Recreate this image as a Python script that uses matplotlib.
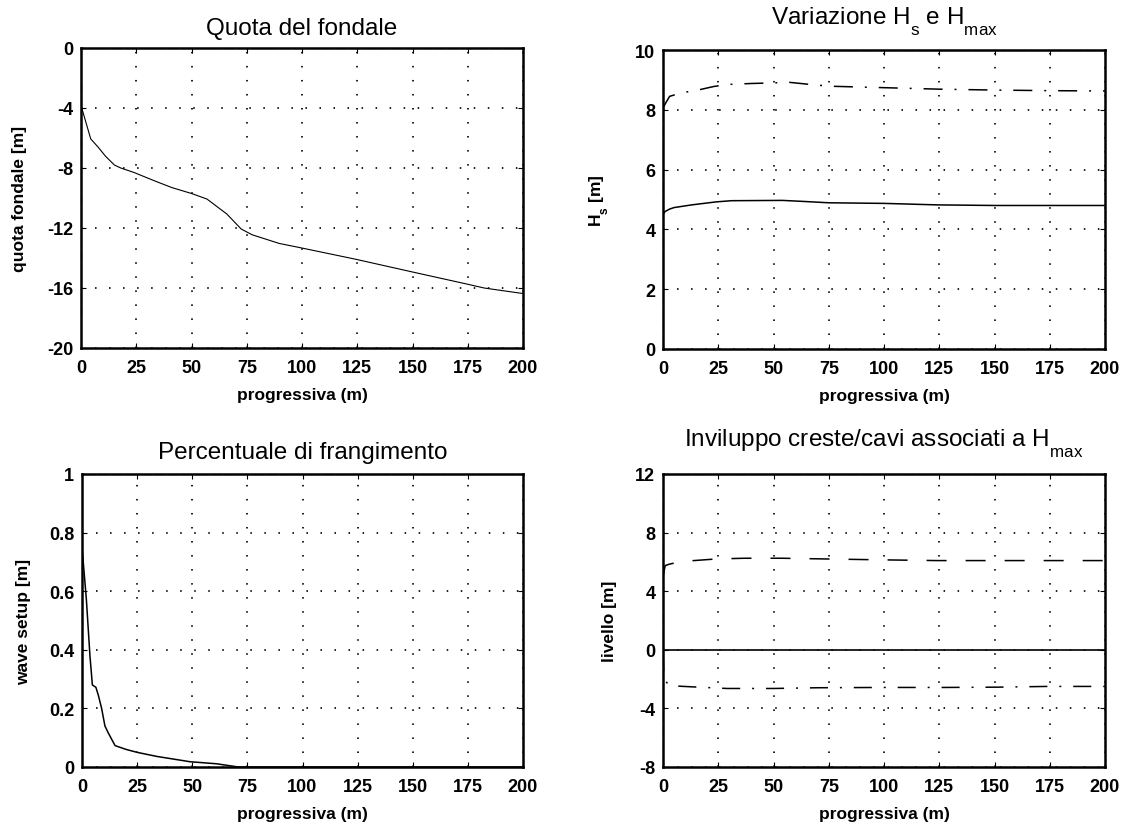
import matplotlib
matplotlib.use("Agg")
import matplotlib.pyplot as plt
from matplotlib.ticker import FormatStrFormatter

# ---- data -------------------------------------------------------------
# sea-bed elevation along the profile
x_fondale = [0, 4.4, 7.7, 11, 15.1, 18, 24, 33, 41, 50, 57, 66, 72.5, 77.4,
             89.7, 98.8, 124.2, 149.6, 175, 182.4, 200]
y_fondale = [-3.83, -6.06, -6.6, -7.2, -7.8, -8.0, -8.3, -8.84, -9.3, -9.7,
             -10.07, -11.07, -12.07, -12.45, -13.03, -13.3, -14.08, -14.92,
             -15.75, -16.0, -16.37]

# significant and maximum wave height
x_hs = [0, 1, 3, 5, 13, 24, 31, 54, 65, 75, 100, 124, 150, 200]
y_hs = [4.5, 4.6, 4.68, 4.73, 4.82, 4.92, 4.96, 4.97, 4.93, 4.89, 4.87,
        4.82, 4.8, 4.8]
x_hmax = [0, 1, 3, 8, 17, 23, 30, 40, 50, 57, 65, 75, 100, 125, 150, 175, 200]
y_hmax = [8.05, 8.2, 8.45, 8.56, 8.68, 8.78, 8.85, 8.88, 8.9, 8.92, 8.86,
          8.79, 8.74, 8.69, 8.66, 8.64, 8.63]

# breaking percentage
x_frang = [0, 2, 3.6, 4.7, 6.3, 7.4, 8.9, 10.4, 12, 15, 20, 25, 34, 49, 61,
           70, 72, 200]
y_frang = [0.75, 0.57, 0.38, 0.28, 0.272, 0.245, 0.2, 0.14, 0.115, 0.073,
           0.06, 0.05, 0.036, 0.018, 0.011, 0.001, 0.0, 0.0]

# crest / trough envelope associated with Hmax
x_creste = [0, 1, 3, 6, 10.3, 24, 37, 53.5, 74, 99, 124, 150, 200]
y_creste = [5.0, 5.75, 5.85, 5.95, 6.05, 6.2, 6.25, 6.25, 6.2, 6.14, 6.09,
            6.09, 6.09]
x_cavi = [0, 0.4, 2.9, 16, 29, 50, 70, 99, 127, 151.5, 174, 200]
y_cavi = [-0.2, -2.0, -2.45, -2.55, -2.64, -2.64, -2.59, -2.57, -2.57,
          -2.55, -2.5, -2.5]
x_medio = [0, 200]
y_medio = [0, 0]

x_ticks = [0, 25, 50, 75, 100, 125, 150, 175, 200]

# ---- style ------------------------------------------------------------
plt.rcParams.update({
    "font.family": ["Liberation Sans", "DejaVu Sans"],
    "mathtext.fontset": "custom",
    "mathtext.rm": "Liberation Sans",
    "mathtext.it": "Liberation Sans",
    "mathtext.bf": "Liberation Sans:bold",
    "lines.scale_dashes": False,
})

# deeper subscripts for the sans font used in the labels
try:
    from matplotlib import _mathtext as _mt

    class _LowSubConstants(_mt.FontConstantsBase):
        sub1 = 0.85
        sub2 = 0.85

    _mt._font_constant_mapping["Liberation Sans"] = _LowSubConstants
except Exception:
    pass

TICK_FS = 13
LABEL_FS = 12.5
TITLE_FS = 17.5

fig = plt.figure(figsize=(11.32, 8.29), dpi=100)
W, H = 1132, 829


def make_axes(left, top, right, bottom):
    return fig.add_axes([left / W, 1 - bottom / H, (right - left) / W,
                         (bottom - top) / H])


def style(ax, ylim, yticks, ylabel, label_x, title, title_y):
    ax.set_xlim(0, 200)
    ax.set_ylim(*ylim)
    ax.set_xticks(x_ticks)
    ax.set_yticks(yticks)
    ax.yaxis.set_major_formatter(FormatStrFormatter("%g"))
    for sp in ax.spines.values():
        sp.set_linewidth(1.8)
    ax.tick_params(direction="in", length=3.6, width=0.8, top=True,
                   right=True, labelsize=TICK_FS)
    ax.tick_params(axis="x", pad=8)
    ax.tick_params(axis="y", pad=5.5)
    for lab in ax.get_xticklabels() + ax.get_yticklabels():
        lab.set_fontweight("bold")
    ax.grid(True, color="0.05", linewidth=1.3, dashes=(1.1, 9.0))
    ax.set_axisbelow(False)
    ax.set_xlabel("progressiva (m)", fontsize=LABEL_FS, fontweight="bold",
                  labelpad=8)
    ax.set_ylabel(ylabel, fontsize=LABEL_FS, fontweight="bold")
    ax.yaxis.set_label_coords(label_x, 0.5)
    ax.set_title(title, fontsize=TITLE_FS, y=title_y, pad=0)


# top-left: sea-bed profile
ax1 = make_axes(81, 49, 523, 349)
ax1.plot(x_fondale, y_fondale, color="black", linewidth=0.8)
style(ax1, (-20, 0), [-20, -16, -12, -8, -4, 0], "quota fondale [m]",
      -0.122, "Quota del fondale", 1.047)

# top-right: Hs and Hmax
ax2 = make_axes(663, 51, 1105, 350)
ax2.plot(x_hs, y_hs, color="black", linewidth=1.1)
ax2.plot(x_hmax, y_hmax, color="black", linewidth=1.1,
         dashes=(13.7, 8.6, 1.4, 8.6))
style(ax2, (0, 10), [0, 2, 4, 6, 8, 10], r"$\mathbf{H_s}$ [m]",
      -0.118, r"Variazione $\mathrm{H_s}$ e $\mathrm{H_{max}}$", 1.087)

# bottom-left: breaking percentage
ax3 = make_axes(82, 475, 523, 768)
ax3.plot(x_frang, y_frang, color="black", linewidth=1.1)
style(ax3, (0, 1), [0, 0.2, 0.4, 0.6, 0.8, 1], "wave setup [m]",
      -0.115, "Percentuale di frangimento", 1.055)

# bottom-right: crest / trough envelope
ax4 = make_axes(663, 475, 1105, 768)
ax4.plot(x_medio, y_medio, color="black", linewidth=1.2)
ax4.plot(x_creste, y_creste, color="black", linewidth=1.1,
         dashes=(14.4, 13.7))
ax4.plot(x_cavi, y_cavi, color="black", linewidth=1.1,
         dashes=(13.0, 8.6, 1.4, 8.6))
style(ax4, (-8, 12), [-8, -4, 0, 4, 8, 12], "livello [m]",
      -0.104, r"Inviluppo creste/cavi associati a $\mathrm{H_{max}}$", 1.095)

fig.savefig("out.png", dpi=100)
